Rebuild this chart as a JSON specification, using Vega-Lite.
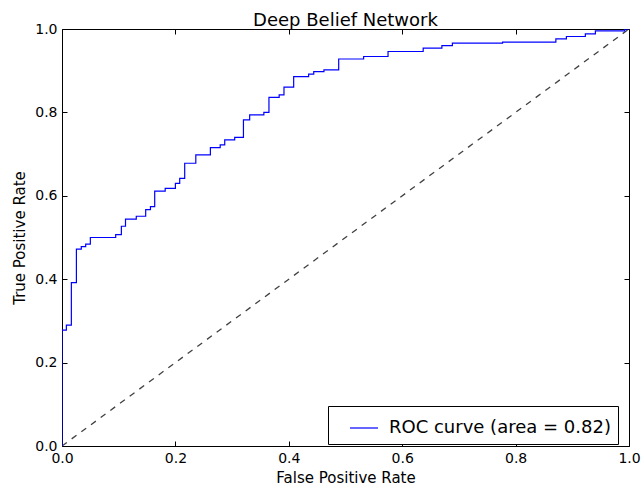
{
  "$schema": "https://vega.github.io/schema/vega-lite/v6.json",
  "width": 567,
  "height": 417,
  "autosize": "none",
  "padding": {"left": 62, "top": 29, "right": 15, "bottom": 47},
  "background": "white",
  "title": {"text": "Deep Belief Network", "fontSize": 18, "font": "DejaVu Sans", "fontWeight": "normal", "color": "black", "offset": -8, "anchor": "middle"},
  "config": {
    "view": {"stroke": "black", "strokeWidth": 1},
    "font": "DejaVu Sans",
    "axis": {"grid": false, "domain": false, "tickColor": "black", "tickSize": -5, "labelPadding": 10, "labelFlush": false, "labelFontSize": 14, "labelColor": "black", "labelFont": "DejaVu Sans", "titleFont": "DejaVu Sans", "titleFontSize": 15, "titleFontWeight": "normal", "titleColor": "black"}
  },
  "datasets": {
    "roc": [
      {"fpr": 0, "tpr": 0},
      {"fpr": 0, "tpr": 0.278},
      {"fpr": 0.0077, "tpr": 0.29},
      {"fpr": 0.0165, "tpr": 0.392},
      {"fpr": 0.0254, "tpr": 0.472},
      {"fpr": 0.034, "tpr": 0.478},
      {"fpr": 0.0418, "tpr": 0.484},
      {"fpr": 0.05, "tpr": 0.5},
      {"fpr": 0.0947, "tpr": 0.507},
      {"fpr": 0.1047, "tpr": 0.527},
      {"fpr": 0.112, "tpr": 0.544},
      {"fpr": 0.131, "tpr": 0.551},
      {"fpr": 0.1476, "tpr": 0.567},
      {"fpr": 0.156, "tpr": 0.574},
      {"fpr": 0.1635, "tpr": 0.611},
      {"fpr": 0.182, "tpr": 0.618},
      {"fpr": 0.2, "tpr": 0.63},
      {"fpr": 0.2076, "tpr": 0.642},
      {"fpr": 0.2164, "tpr": 0.678},
      {"fpr": 0.236, "tpr": 0.698},
      {"fpr": 0.2617, "tpr": 0.7155},
      {"fpr": 0.279, "tpr": 0.722},
      {"fpr": 0.287, "tpr": 0.734},
      {"fpr": 0.3046, "tpr": 0.74},
      {"fpr": 0.32, "tpr": 0.782},
      {"fpr": 0.331, "tpr": 0.794},
      {"fpr": 0.356, "tpr": 0.8},
      {"fpr": 0.365, "tpr": 0.836},
      {"fpr": 0.383, "tpr": 0.842},
      {"fpr": 0.3915, "tpr": 0.8605},
      {"fpr": 0.4086, "tpr": 0.886},
      {"fpr": 0.435, "tpr": 0.892},
      {"fpr": 0.444, "tpr": 0.898},
      {"fpr": 0.462, "tpr": 0.902},
      {"fpr": 0.488, "tpr": 0.928},
      {"fpr": 0.532, "tpr": 0.934},
      {"fpr": 0.575, "tpr": 0.946},
      {"fpr": 0.637, "tpr": 0.954},
      {"fpr": 0.67, "tpr": 0.96},
      {"fpr": 0.6885, "tpr": 0.966},
      {"fpr": 0.777, "tpr": 0.9686},
      {"fpr": 0.871, "tpr": 0.9765},
      {"fpr": 0.8896, "tpr": 0.982},
      {"fpr": 0.923, "tpr": 0.9885},
      {"fpr": 0.9407, "tpr": 0.9957},
      {"fpr": 0.9924, "tpr": 1.0},
      {"fpr": 1.0, "tpr": 1.0}
    ],
    "diag": [
      {"fpr": 0, "tpr": 0},
      {"fpr": 1, "tpr": 1}
    ]
  },
  "resolve": {"axis": {"x": "independent", "y": "independent"}},
  "layer": [
    {
      "data": {"name": "diag"},
      "mark": {"type": "line", "color": "#404040", "strokeDash": [6, 6], "strokeWidth": 1.3, "clip": true},
      "encoding": {
        "x": {"field": "fpr", "type": "quantitative", "scale": {"domain": [0, 1], "nice": false, "zero": false}, "axis": {"orient": "top", "labels": false, "title": null, "values": [0, 0.2, 0.4, 0.6, 0.8, 1.0]}},
        "y": {"field": "tpr", "type": "quantitative", "scale": {"domain": [0, 1], "nice": false, "zero": false}, "axis": {"orient": "right", "labels": false, "title": null, "values": [0, 0.2, 0.4, 0.6, 0.8, 1.0]}}
      }
    },
    {
      "data": {"name": "roc"},
      "transform": [{"calculate": "'ROC curve (area = 0.82)'", "as": "series"}],
      "mark": {"type": "line", "interpolate": "step-after", "strokeWidth": 1.2, "clip": true},
      "encoding": {
        "x": {"field": "fpr", "type": "quantitative", "axis": {"orient": "bottom", "title": "False Positive Rate", "format": ".1f", "values": [0, 0.2, 0.4, 0.6, 0.8, 1.0], "titlePadding": 5}},
        "y": {"field": "tpr", "type": "quantitative", "axis": {"orient": "left", "title": "True Positive Rate", "format": ".1f", "values": [0, 0.2, 0.4, 0.6, 0.8, 1.0], "titlePadding": 7}},
        "color": {"field": "series", "type": "nominal", "scale": {"range": ["blue"]}, "legend": {"title": null, "orient": "none", "legendX": 266, "legendY": 377, "fillColor": "white", "strokeColor": "black", "padding": 7, "symbolOffset": 14, "symbolType": "stroke", "symbolSize": 784, "symbolStrokeWidth": 1.2, "labelFontSize": 18, "labelLimit": 400, "labelFont": "DejaVu Sans", "labelColor": "black", "labelOffset": 10, "cornerRadius": 0}}
      }
    }
  ]
}
